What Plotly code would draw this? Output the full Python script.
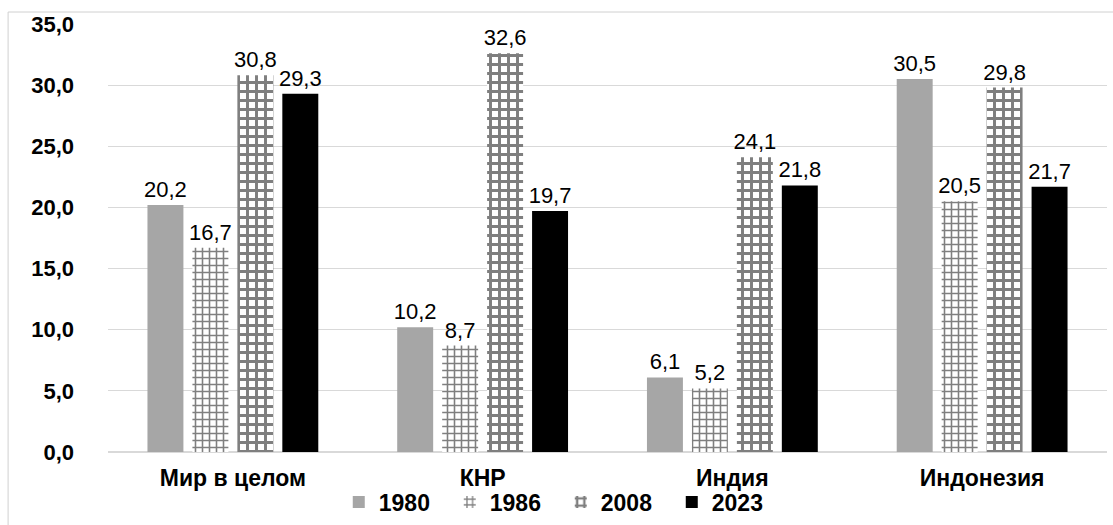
import plotly.graph_objects as go

categories = ["Мир в целом", "КНР", "Индия", "Индонезия"]
years = ["1980", "1986", "2008", "2023"]
v1980 = [20.2, 10.2, 6.1, 30.5]
v1986 = [16.7, 8.7, 5.2, 20.5]
v2008 = [30.8, 32.6, 24.1, 29.8]
v2023 = [29.3, 19.7, 21.8, 21.7]
yticks = [0, 5, 10, 15, 20, 25, 30, 35]

FONT = "Liberation Sans, Arial"
series = [v1980, v1986, v2008, v2023]
styles = [
    dict(color="#a6a6a6"),
    dict(color="white", pattern=dict(shape="+", fgcolor="black", bgcolor="white", size=7, solidity=0.4)),
    dict(color="white", pattern=dict(shape="+", fgcolor="black", bgcolor="white", size=9, solidity=0.55)),
    dict(color="black"),
]

fig = go.Figure()
for name, vals, st in zip(years, series, styles):
    fig.add_trace(go.Bar(
        x=categories, y=vals, name=name, marker=dict(**st, line=dict(width=0)),
        texttemplate="%{y:.1f}", textposition="outside", constraintext="none",
        textfont=dict(family=FONT, size=22, color="black"),
        cliponaxis=False,
    ))

fig.update_layout(
    width=1113, height=525,
    margin=dict(l=108, r=6, t=24, b=73, autoexpand=False),
    paper_bgcolor="white", plot_bgcolor="white",
    separators=", ",
    barmode="group", bargap=0.28, bargroupgap=0.2,
    font=dict(family=FONT, color="black"),
    showlegend=True,
    legend=dict(orientation="h", x=0.231, xanchor="left", y=-0.117, yanchor="middle",
                bgcolor="rgba(0,0,0,0)",
                font=dict(size=23, family=FONT, weight="bold"),
                itemwidth=30, entrywidth=66, entrywidthmode="pixels",
                traceorder="normal"),
    shapes=[dict(type="rect", xref="paper", yref="paper",
                 x0=-0.1, x1=1.02, y0=-0.2, y1=1.028,
                 line=dict(color="#d0d0d0", width=1))],
)
fig.update_yaxes(range=[0, 35], tickvals=yticks, tickformat=".1f", automargin=False,
                 showgrid=True, gridcolor="#d9d9d9", gridwidth=1,
                 zeroline=True, zerolinecolor="#d9d9d9",
                 tickfont=dict(size=22, weight="bold"), ticklabelstandoff=33)
fig.update_xaxes(showline=False, automargin=False,
                 tickfont=dict(size=23, weight="bold"), ticklabelstandoff=10)

fig.write_html("out.html", config={"displayModeBar": False},
               post_script="document.body.style.margin='0px';")
